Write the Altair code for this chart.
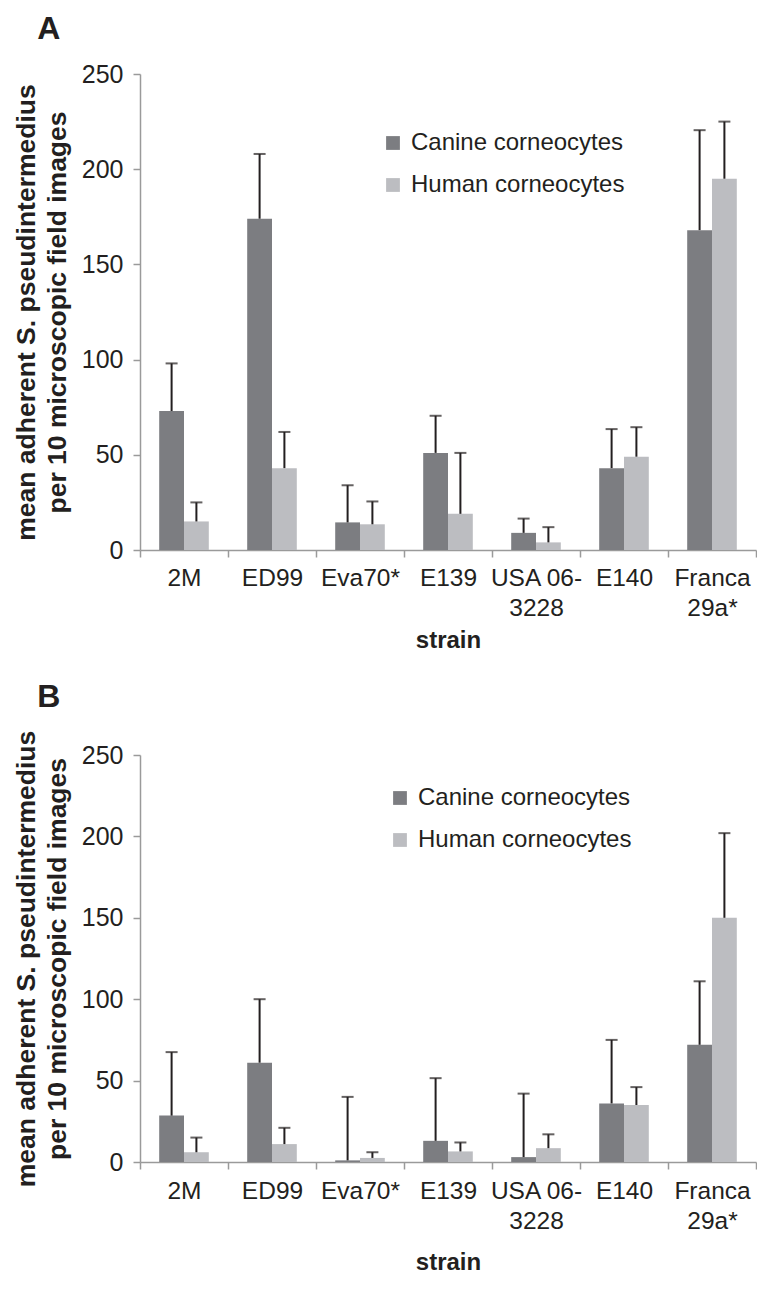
import altair as alt
import pandas as pd

strains = ["2M", "ED99", "Eva70*", "E139", "USA 06-3228", "E140", "Franca 29a*"]
label_lines = {"USA 06-3228": ["USA 06-", "3228"], "Franca 29a*": ["Franca", "29a*"]}
series = ["Canine corneocytes", "Human corneocytes"]

# Panel A
a_canine = [73, 174, 14.5, 51, 9, 43, 168]
a_canine_sd = [25, 34, 19.5, 19.5, 7.5, 20.5, 52.5]
a_human = [15, 43, 13.5, 19, 4, 49, 195]
a_human_sd = [10, 19, 12, 32, 8, 15.5, 30]

# Panel B
b_canine = [28.5, 61, 1, 13, 3, 36, 72]
b_canine_sd = [39, 39, 39, 38.5, 39, 39, 39]
b_human = [6, 11, 2.5, 6.5, 8.5, 35, 150]
b_human_sd = [9, 10, 3.5, 5.5, 8.5, 11, 52]

y_ticks = [0, 50, 100, 150, 200, 250]
y_title = ["mean adherent S. pseudintermedius", "per 10 microscopic field images"]
x_title = "strain"

DARK = "#7c7d81"
LIGHT = "#bcbdc1"
INK = "#231f20"
AXIS = "#9a9a9a"
FONT = "Liberation Sans"

expr = "datum.label"
for k, v in label_lines.items():
    expr = f"datum.value == '{k}' ? ['{v[0]}', '{v[1]}'] : " + expr


def panel(letter, canine, canine_sd, human, human_sd, height, lx, ly, toff, lpad, tpad):
    rows = []
    for i, s in enumerate(strains):
        rows.append(dict(strain=s, series=series[0], mean=canine[i], upper=canine[i] + canine_sd[i]))
        rows.append(dict(strain=s, series=series[1], mean=human[i], upper=human[i] + human_sd[i]))
    df = pd.DataFrame(rows)
    base = alt.Chart(df)
    x = alt.X(
        "strain:N", sort=strains,
        scale=alt.Scale(paddingInner=0, paddingOuter=0),
        axis=alt.Axis(
            title=x_title, labelAngle=0, tickBand="extent", tickSize=7,
            labelExpr=expr, labelLineHeight=30, labelFontSize=24.5, labelPadding=lpad,
            labelColor=INK, titleColor=INK, titleFontSize=24, titleFontWeight="bold",
            titlePadding=tpad, domainColor=AXIS, tickColor=AXIS, domainWidth=1.5, tickWidth=1.5,
        ),
    )
    xoff = alt.XOffset("series:N", sort=series, scale=alt.Scale(paddingInner=0, paddingOuter=0.774))
    y = alt.Y(
        "mean:Q",
        scale=alt.Scale(domain=[0, 250], nice=False),
        axis=alt.Axis(
            title=y_title, values=y_ticks, grid=False, tickSize=7, labelFontSize=25,
            labelPadding=10, labelColor=INK, titleColor=INK, titleFontSize=26.5,
            titleFontWeight="bold", titleLineHeight=31, titlePadding=10,
            domainColor=AXIS, tickColor=AXIS, domainWidth=1.5, tickWidth=1.5,
        ),
    )
    bars = base.mark_bar().encode(
        x=x, xOffset=xoff, y=y,
        color=alt.Color(
            "series:N",
            scale=alt.Scale(domain=series, range=[DARK, LIGHT]),
            legend=alt.Legend(
                title=None, orient="none", legendX=lx, legendY=ly, symbolType="square",
                symbolSize=190, symbolStrokeWidth=0, labelFontSize=24, labelColor=INK,
                rowPadding=18, labelOffset=6, labelLimit=0,
            ),
        ),
    )
    rules = base.mark_rule(color=INK, strokeWidth=2).encode(
        x=x, xOffset=xoff, y="mean:Q", y2="upper:Q"
    )
    caps = base.mark_tick(color=INK, thickness=2, size=12).encode(
        x=x, xOffset=xoff, y="upper:Q"
    )
    return alt.layer(bars, rules, caps).properties(
        width=616, height=height,
        title=alt.TitleParams(letter, anchor="start", fontSize=32, fontWeight="bold",
                              color=INK, dx=24, offset=toff),
    )


pa = panel("A", a_canine, a_canine_sd, a_human, a_human_sd, 476, 241, 57, 16, 9, 9)
pb = panel("B", b_canine, b_canine_sd, b_human, b_human_sd, 407, 248, 31, 16, 10, 18)

chart = alt.vconcat(pa, pb, spacing=28).resolve_scale(color="independent").configure(
    font=FONT, padding={"left": 5, "top": 5, "right": 0, "bottom": 0}
).configure_view(stroke=None)

chart.save("out.html", embed_options={"renderer": "svg", "actions": False})
